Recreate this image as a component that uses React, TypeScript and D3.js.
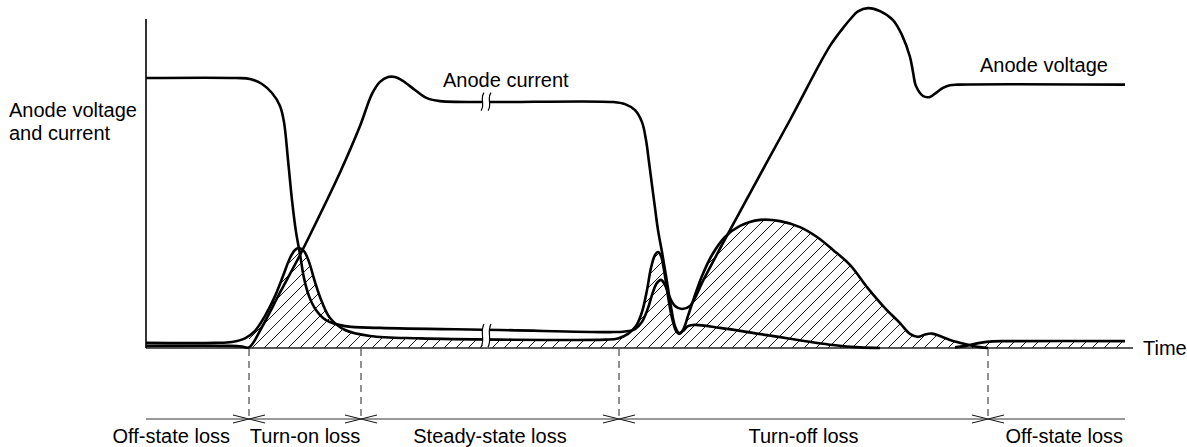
import React from "react";
import * as d3 from "d3";

const W = 1187;
const H = 447;

// time in arbitrary units (0-100), level in arbitrary units (0-110)
const voltage: [number, number][] = [
  [0, 90], [9, 90], [10.4, 89.7], [11.6, 88], [12.6, 85], [13.4, 80.7], [13.8, 75.3],
  [14.2, 62.7], [14.6, 49.3], [15, 38.7], [15.4, 31.3], [15.8, 23.3], [16.3, 17.3],
  [17, 12.7], [18, 9.3], [19.9, 7.3], [23.4, 6.7], [35.4, 6], [46.4, 5.3], [47.9, 5.5],
  [48.9, 6.3], [49.6, 8.7], [50.2, 13.3], [50.7, 18.7], [51.1, 21.7], [51.5, 22.7],
  [51.9, 21], [52.4, 16.7], [52.9, 14], [53.6, 13], [54.4, 14], [55, 17.3], [55.6, 21.7],
  [59.7, 47.3], [64.4, 76], [68.4, 100.7], [69.9, 107.5], [70.4, 109.5], [71.2, 112.2],
  [72.2, 113.3], [73.4, 112.3], [74.7, 109.3], [75.6, 104.3], [76.4, 97], [76.7, 92],
  [77, 87.3], [77.7, 84], [78.4, 83.7], [79.1, 85.3], [79.7, 86.7], [80.4, 87.6],
  [81.2, 87.8], [97.9, 87.8],
];

const current: ([number, number] | null)[] = [
  [0, 0.7], [8.4, 0.7], [9.6, 0.5], [10.3, 0.2], [11.6, 7], [13.4, 18.5], [15.4, 31],
  [17.4, 44.5], [19.4, 58.5], [21.4, 74], [22.6, 84.7], [23.4, 88.7], [24.2, 90.3],
  [24.9, 90.3], [25.7, 89], [26.9, 86], [28.1, 83.3], [29.4, 82.3], [46.7, 82],
  [47.9, 81.3], [48.9, 79.3], [49.6, 75.3], [50, 69.3], [50.3, 62], [50.6, 54.3],
  [50.9, 46.7], [51.2, 39.3], [51.6, 32], [52.1, 22], [52.5, 13.7], [52.9, 7.3],
  [53.3, 5], [53.7, 5.7], [54.2, 7.3], [54.9, 7.7], [57.4, 6.7], [62.1, 4.3], [68.7, 1],
  [71.4, 0.2], [73.4, 0],
  null,
  [80.9, 0.2], [82.1, 0.8], [83.4, 1.7], [84.7, 2.2], [85.9, 2.3], [97.9, 2.3],
];

const power: [number, number][] = [
  [0, 1.7], [6.9, 1.7], [8.6, 2], [9.9, 3.2], [10.9, 5.7], [11.9, 10.7], [12.9, 17.3],
  [13.7, 24], [14.4, 30], [14.9, 32.7], [15.3, 33.3], [15.8, 32.3], [16.3, 28.7],
  [16.9, 22], [17.6, 15.3], [18.4, 10], [19.9, 6], [22.4, 4], [27.4, 3.2], [35.4, 2.8],
  [45.9, 2.8], [47.2, 3.2], [48.2, 4.7], [49, 7.3], [49.6, 12], [50.1, 19.3], [50.5, 26.7],
  [50.9, 31], [51.2, 32], [51.5, 30.7], [51.8, 26], [52.2, 17.3], [52.6, 10], [53, 5.7],
  [53.3, 4.7], [53.7, 6], [54.2, 10.7], [54.8, 16.7], [55.6, 24], [56.6, 31], [57.9, 37],
  [59.4, 40.7], [61.4, 42.7], [63.4, 42.3], [65.4, 40.3], [67.1, 37], [68.7, 32.7],
  [70.4, 27.7], [72.1, 20.3], [73.9, 13.3], [75.4, 8.3], [76.4, 4.7], [77.2, 3.7],
  [77.9, 4.5], [78.6, 4.8], [79.4, 4], [80.4, 2.7], [82.1, 1.2], [83.4, 0.3], [84.2, 0],
];

const phaseBounds = [0, 10.3, 21.5, 47.3, 84.2, 97.9];
const phaseLabels = ["Off-state loss", "Turn-on loss", "Steady-state loss", "Turn-off loss", "Off-state loss"];
const breakTime = 34;
const axisEnd = 98.7;
const axisTop = 109.7;

const FONT = "'Liberation Sans', Arial, Helvetica, sans-serif";

export default function App() {
  const x = d3.scaleLinear().domain([0, 100]).range([146, 1146]);
  const y = d3.scaleLinear().domain([0, 110]).range([348, 18]);
  const curve = d3.curveCatmullRom.alpha(0.5);

  const line = d3
    .line<[number, number] | null>()
    .defined((d) => d !== null)
    .x((d) => x(d![0]))
    .y((d) => y(d![1]))
    .curve(curve);

  const area = d3
    .area<[number, number] | null>()
    .defined((d) => d !== null)
    .x((d) => x(d![0]))
    .y0(y(0))
    .y1((d) => y(d![1]))
    .curve(curve);

  const leak = current.slice(current.indexOf(null) + 1) as [number, number][];

  const yAxis = y(0);
  const yBottom = 419;
  const bx = x(breakTime);
  const curLevel = 82.1;

  const sPath = (cx: number, y0: number, y1: number) => {
    const h = y1 - y0;
    return `M${cx + 1.5},${y0} C${cx - 3},${y0 + h * 0.35} ${cx + 3},${y0 + h * 0.65} ${cx - 1.5},${y1}`;
  };

  return (
    <svg
      width={W}
      height={H}
      style={{ position: "absolute", left: 0, top: 0, background: "#fff" }}
      fontFamily={FONT}
    >
      <defs>
        <pattern id="hatch" width="12" height="12" patternUnits="userSpaceOnUse">
          <path d="M-1,1 L1,-1 M0,12 L12,0 M11,13 L13,11" stroke="#000" strokeWidth="0.9" />
        </pattern>
        <clipPath id="hclip">
          <rect x={x(phaseBounds[1])} y={0} width={x(phaseBounds[5]) - x(phaseBounds[1])} height={yAxis} />
        </clipPath>
      </defs>

      <g clipPath="url(#hclip)">
        <path d={area(power) || ""} fill="url(#hatch)" />
        <path d={area(leak) || ""} fill="url(#hatch)" />
      </g>

      {/* axes */}
      <line x1={x(0)} x2={x(0)} y1={y(axisTop)} y2={yAxis} stroke="#000" strokeWidth={1.6} />
      <line x1={x(0)} x2={x(axisEnd)} y1={yAxis} y2={yAxis} stroke="#222" strokeWidth={1.5} />

      {/* curves */}
      <path d={line(voltage) || ""} fill="none" stroke="#000" strokeWidth={2.6} strokeLinejoin="round" />
      <path d={line(current) || ""} fill="none" stroke="#000" strokeWidth={2.6} strokeLinejoin="round" />
      <path d={line(power) || ""} fill="none" stroke="#000" strokeWidth={2.6} strokeLinejoin="round" />

      {/* break marks */}
      <rect x={bx - 3.5} y={y(curLevel) - 8} width={7} height={16} fill="#fff" />
      <path d={sPath(bx - 3.5, y(curLevel) - 9, y(curLevel) + 9)} fill="none" stroke="#000" strokeWidth={1.2} />
      <path d={sPath(bx + 3.5, y(curLevel) - 9, y(curLevel) + 9)} fill="none" stroke="#000" strokeWidth={1.2} />
      <rect x={bx - 3.5} y={y(7.8)} width={7} height={y(0.3) - y(7.8)} fill="#fff" />
      <path d={sPath(bx - 3.5, y(8), y(0.3))} fill="none" stroke="#000" strokeWidth={1.2} />
      <path d={sPath(bx + 3.5, y(8), y(0.3))} fill="none" stroke="#000" strokeWidth={1.2} />

      {/* phase dividers */}
      {phaseBounds.slice(1, -1).map((b, i) => (
        <g key={i}>
          <line x1={x(b)} x2={x(b)} y1={yAxis + 1} y2={yBottom} stroke="#222" strokeWidth={1} strokeDasharray="7,5" />
          <path
            d={`M${x(b) - 16},${yBottom - 4} L${x(b)},${yBottom} L${x(b) - 16},${yBottom + 4} M${x(b) + 16},${yBottom - 4} L${x(b)},${yBottom} L${x(b) + 16},${yBottom + 4}`}
            fill="none"
            stroke="#111"
            strokeWidth={1}
          />
        </g>
      ))}
      <line x1={x(0)} x2={x(phaseBounds[5])} y1={yBottom} y2={yBottom} stroke="#333" strokeWidth={1.1} />

      {phaseLabels.map((lab, i) => {
        const a = phaseBounds[i];
        const b = phaseBounds[i + 1];
        let tx = (x(a) + x(b)) / 2;
        let anchor: "middle" | "end" = "middle";
        if (i === 0) {
          tx = x(b) - 19;
          anchor = "end";
        } else if (i === phaseLabels.length - 1) {
          tx = x(b) - 2;
          anchor = "end";
        }
        return (
          <text key={i} x={tx} y={443} fontSize={20} textAnchor={anchor} fill="#000">
            {lab}
          </text>
        );
      })}

      {/* texts */}
      <text x={9} y={117} fontSize={20} fill="#000">Anode voltage</text>
      <text x={9} y={139.5} fontSize={20} fill="#000">and current</text>
      <text x={443} y={86.5} fontSize={20} fill="#000">Anode current</text>
      <text x={980} y={72} fontSize={20} fill="#000">Anode voltage</text>
      <text x={x(axisEnd) + 10} y={355} fontSize={20} fill="#000">Time</text>
    </svg>
  );
}
